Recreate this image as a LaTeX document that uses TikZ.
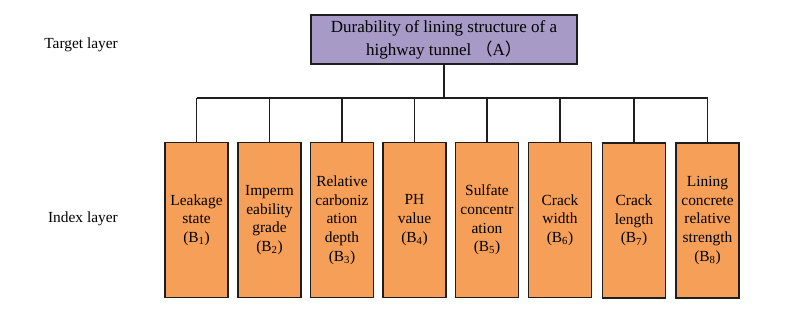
\documentclass[tikz,border=0pt]{standalone}
\usepackage{fontspec}
\IfFontExistsTF{LiberationSerif-Regular.ttf}{\setmainfont{LiberationSerif}[Extension=.ttf,UprightFont=*-Regular,BoldFont=*-Bold,ItalicFont=*-Italic]}{\setmainfont{Liberation Serif}}
\newfontfamily\cjk{Noto Sans CJK SC}
\definecolor{tgtfill}{RGB}{167,154,198}
\definecolor{idxfill}{RGB}{245,159,88}
\definecolor{edge}{RGB}{30,30,30}
\tikzset{
  conn/.style={draw=edge, line width=1.6pt},
  topbox/.style={draw=edge, line width=1.8pt, fill=tgtfill, minimum width=266pt, minimum height=49pt, inner sep=0pt, align=center, font=\fontsize{17}{23}\selectfont},
  idxbox/.style={draw=edge, line width=1.8pt, fill=idxfill, minimum width=63pt, minimum height=155pt, inner sep=0pt, align=center, font=\fontsize{15.4}{18.7}\selectfont},
  layerlbl/.style={anchor=east, inner sep=0pt, font=\fontsize{15.4}{18.7}\selectfont}
}
\begin{document}
\begin{tikzpicture}[x=1pt,y=-1pt]
\useasboundingbox (0,0) rectangle (785,323);
\node[layerlbl] (lt) at (118,45) {Target layer};
\node[layerlbl] (li) at (118,219) {Index layer};
\node[topbox] (top) at (444,39.5) {Durability of lining structure of a\\highway tunnel {\cjk （}A{\cjk ）}};
\coordinate (bus) at (450,98);
\node[idxbox] (b1) at (196.5,220) {Leakage\\state\\(B\textsubscript{1})};
\node[idxbox] (b2) at (269.5,220) {Imperm\\eability\\grade\\(B\textsubscript{2})};
\node[idxbox] (b3) at (342,220) {Relative\\carboniz\\ation\\depth\\(B\textsubscript{3})};
\node[idxbox] (b4) at (414.5,220) {PH\\value\\(B\textsubscript{4})};
\node[idxbox] (b5) at (487,220) {Sulfate\\concentr\\ation\\(B\textsubscript{5})};
\node[idxbox] (b6) at (560,220) {Crack\\width\\(B\textsubscript{6})};
\node[idxbox] (b7) at (634,220.5) {Crack\\length\\(B\textsubscript{7})};
\node[idxbox] (b8) at (707.5,220.5) {Lining\\concrete\\relative\\strength\\(B\textsubscript{8})};
\draw[conn] (top.south) -- (top.south |- bus);
\draw[conn] (b1.north |- bus) -- (b8.north |- bus);
\foreach \i in {1,...,8}{\draw[conn] (b\i.north) -- (b\i.north |- bus);}
\end{tikzpicture}
\end{document}
